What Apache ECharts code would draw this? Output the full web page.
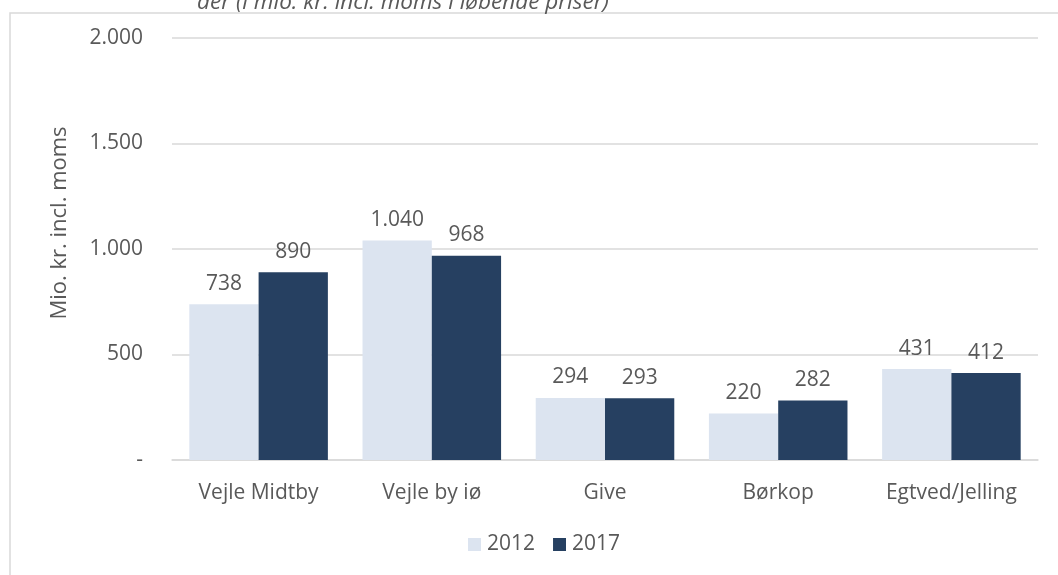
<!DOCTYPE html>
<html>
<head>
<meta charset="utf-8">
<script src="https://cdn.jsdelivr.net/npm/echarts@6/dist/echarts.min.js"></script>
<style>
html,body{margin:0;padding:0;background:#fff;}
#chart{width:1058px;height:575px;}
</style>
</head>
<body>
<div id="chart"></div>
<script>
const categories = ['Vejle Midtby', 'Vejle by iø', 'Give', 'Børkop', 'Egtved/Jelling'];
const seriesNames = ['2012', '2017'];
const values2012 = [738, 1040, 294, 220, 431];
const values2017 = [890, 968, 293, 282, 412];
const yTicks = [0, 500, 1000, 1500, 2000];
const yAxisTitle = 'Mio. kr. incl. moms';
const clippedTitle = 'der (i mio. kr. incl. moms i løbende priser)';

const FONT = '"Open Sans", sans-serif';
const TXT = '#595959';
const FS = 21;
const fmt = v => v === 0 ? '-' : String(v).replace(/\B(?=(\d{3})+(?!\d))/g, '.');

const chart = echarts.init(document.getElementById('chart'));
chart.setOption({
  animation: false,
  textStyle: { fontFamily: FONT },
  grid: { left: 172, right: 20, top: 38, bottom: 115, containLabel: false },
  legend: {
    data: seriesNames,
    bottom: 15,
    left: 463,
    itemWidth: 13, itemHeight: 13, itemGap: 18,
    icon: 'rect',
    textStyle: { fontFamily: FONT, fontSize: FS, color: TXT, padding: [0, 0, 0, 1] }
  },
  graphic: [
    { type: 'polyline', shape: { points: [[10, 575], [10, 13], [1058, 13]] },
      style: { stroke: '#d9d9d9', lineWidth: 1.5, fill: null }, silent: true },
    { type: 'text', x: 197, y: 14,
      style: { text: clippedTitle, font: 'italic 22.5px "Open Sans", sans-serif', fill: TXT, verticalAlign: 'bottom' } },
    { type: 'text', x: 60, y: 223, rotation: Math.PI / 2,
      style: { text: yAxisTitle, font: '22px "Open Sans", sans-serif', fill: TXT, align: 'center', verticalAlign: 'middle' } }
  ],
  xAxis: {
    type: 'category',
    data: categories,
    axisTick: { show: false },
    axisLine: { lineStyle: { color: '#d9d9d9', width: 1.5 } },
    axisLabel: { color: TXT, fontSize: FS, fontFamily: FONT, margin: 23 }
  },
  yAxis: {
    type: 'value',
    min: yTicks[0], max: yTicks[yTicks.length - 1], interval: yTicks[1] - yTicks[0],
    axisLine: { show: false }, axisTick: { show: false },
    splitLine: { lineStyle: { color: '#d9d9d9', width: 1.5 } },
    axisLabel: { color: TXT, fontSize: FS, fontFamily: FONT, margin: 29, formatter: fmt }
  },
  series: [
    { name: seriesNames[0], type: 'bar', data: values2012, barGap: '0%', barCategoryGap: '20%',
      itemStyle: { color: '#dce4f0' },
      label: { show: true, position: 'top', distance: 10, color: TXT, fontSize: FS, fontFamily: FONT, formatter: p => fmt(p.value) } },
    { name: seriesNames[1], type: 'bar', data: values2017, barGap: '0%', barCategoryGap: '20%',
      itemStyle: { color: '#264061' },
      label: { show: true, position: 'top', distance: 10, color: TXT, fontSize: FS, fontFamily: FONT, formatter: p => fmt(p.value) } }
  ]
});
</script>
</body>
</html>
